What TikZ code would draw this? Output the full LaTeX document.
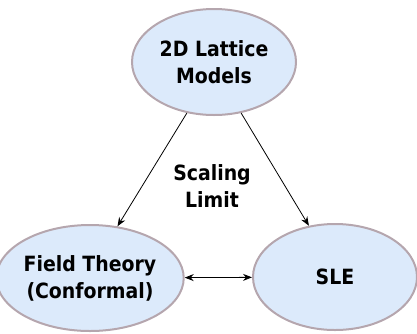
\documentclass[tikz,border=0pt]{standalone}
\usepackage{fontspec}
\setmainfont{DejaVu Sans Condensed}
\usetikzlibrary{shapes.geometric, arrows.meta}
\definecolor{bubblefill}{HTML}{DCEAFB}
\definecolor{bubbleline}{HTML}{B5A6AE}
\tikzset{tip/.tip={Stealth[length=9pt, width=7pt, inset=3pt]}}
\begin{document}
\begin{tikzpicture}[x=1pt, y=-1pt,
    bubble/.style={ellipse, draw=bubbleline, line width=2pt, fill=bubblefill,
      minimum width=164pt, minimum height=106pt, inner sep=0pt,
      align=center, font=\fontsize{21}{27}\selectfont\bfseries},
    link/.style={line width=0.8pt}]
    \useasboundingbox (0,0) rectangle (417,333);
    \node[bubble] (lattice) at (214,62) {2D Lattice\\Models};
    \node[bubble] (field) at (90,278) {Field Theory\\(Conformal)};
    \node[bubble] (sle) at (335,277) {SLE};
    \node[align=center, font=\fontsize{21}{27}\selectfont\bfseries] (limit) at (212,186) {Scaling\\Limit};
    \draw[link, -tip] (lattice.-118) -- (field.62);
    \draw[link, -tip] (lattice.-62) -- (sle.117);
    \draw[link, tip-tip] (field) -- (sle);
\end{tikzpicture}
\end{document}
